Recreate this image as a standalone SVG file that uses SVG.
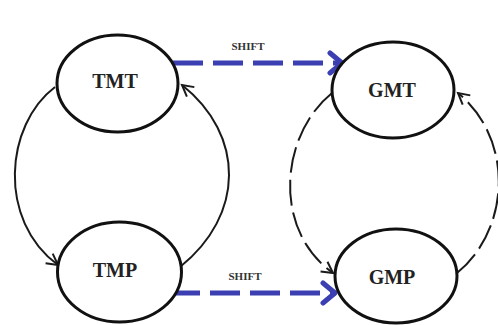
<svg xmlns="http://www.w3.org/2000/svg" width="498" height="325" viewBox="0 0 498 325">
  <style>
    .state ellipse { fill: #ffffff; stroke: #111111; stroke-width: 3; }
    .state text { font-family: "Liberation Serif", "Times New Roman", serif; font-weight: bold; font-size: 20px; fill: #222222; text-anchor: middle; }
    .flow { fill: none; stroke: #1a1a1a; stroke-width: 2; }
    .flow.dashed { stroke-dasharray: 26 7; }
    .shift { fill: none; stroke: #3b3fb2; stroke-width: 5; stroke-dasharray: 30 10; }
    .shift-label { font-family: "Liberation Serif", "Times New Roman", serif; font-weight: bold; font-size: 11px; fill: #333333; text-anchor: middle; }
  </style>
  <defs>
    <marker id="open-arrow" markerUnits="userSpaceOnUse" markerWidth="16" markerHeight="16" refX="12" refY="8" orient="auto">
      <polyline points="1,2 12,8 1,14" fill="none" stroke="#1a1a1a" stroke-width="2"/>
    </marker>
    <marker id="shift-arrow" markerUnits="userSpaceOnUse" markerWidth="26" markerHeight="26" refX="19" refY="13" orient="auto">
      <polyline points="6,3 18,13 6,23" fill="none" stroke="#3b3fb2" stroke-width="5" stroke-linecap="round" stroke-linejoin="round"/>
    </marker>
  </defs>

  <rect width="498" height="325" fill="#ffffff"/>

  <g id="connectors">
    <!-- solid loop between TMT and TMP -->
    <path class="flow" d="M55,87 C5,125 -3,220 58,265" marker-end="url(#open-arrow)"/>
    <path class="flow" d="M180,267 C245,215 245,135 182,85" marker-end="url(#open-arrow)"/>
    <!-- dashed loop between GMT and GMP -->
    <path class="flow dashed" d="M332,93 C280,135 272,230 333,273" marker-end="url(#open-arrow)"/>
    <path class="flow dashed" d="M457,273 C510,230 515,140 458,93" marker-end="url(#open-arrow)"/>
    <!-- shift arrows -->
    <path class="shift" d="M173,63 L343,63" marker-end="url(#shift-arrow)"/>
    <path class="shift" d="M170,293 L336,293" marker-end="url(#shift-arrow)"/>
    <text class="shift-label" x="248" y="50">SHIFT</text>
    <text class="shift-label" x="245" y="280">SHIFT</text>
  </g>

  <g id="TMT" class="state">
    <ellipse cx="117.5" cy="83.5" rx="60.5" ry="48.5"/>
    <text x="115" y="88">TMT</text>
  </g>
  <g id="GMT" class="state">
    <ellipse cx="393" cy="90" rx="61" ry="48"/>
    <text x="392" y="97">GMT</text>
  </g>
  <g id="TMP" class="state">
    <ellipse cx="119.5" cy="272" rx="62" ry="50"/>
    <text x="115" y="277">TMP</text>
  </g>
  <g id="GMP" class="state">
    <ellipse cx="396" cy="276" rx="61" ry="47"/>
    <text x="392" y="284">GMP</text>
  </g>
</svg>
